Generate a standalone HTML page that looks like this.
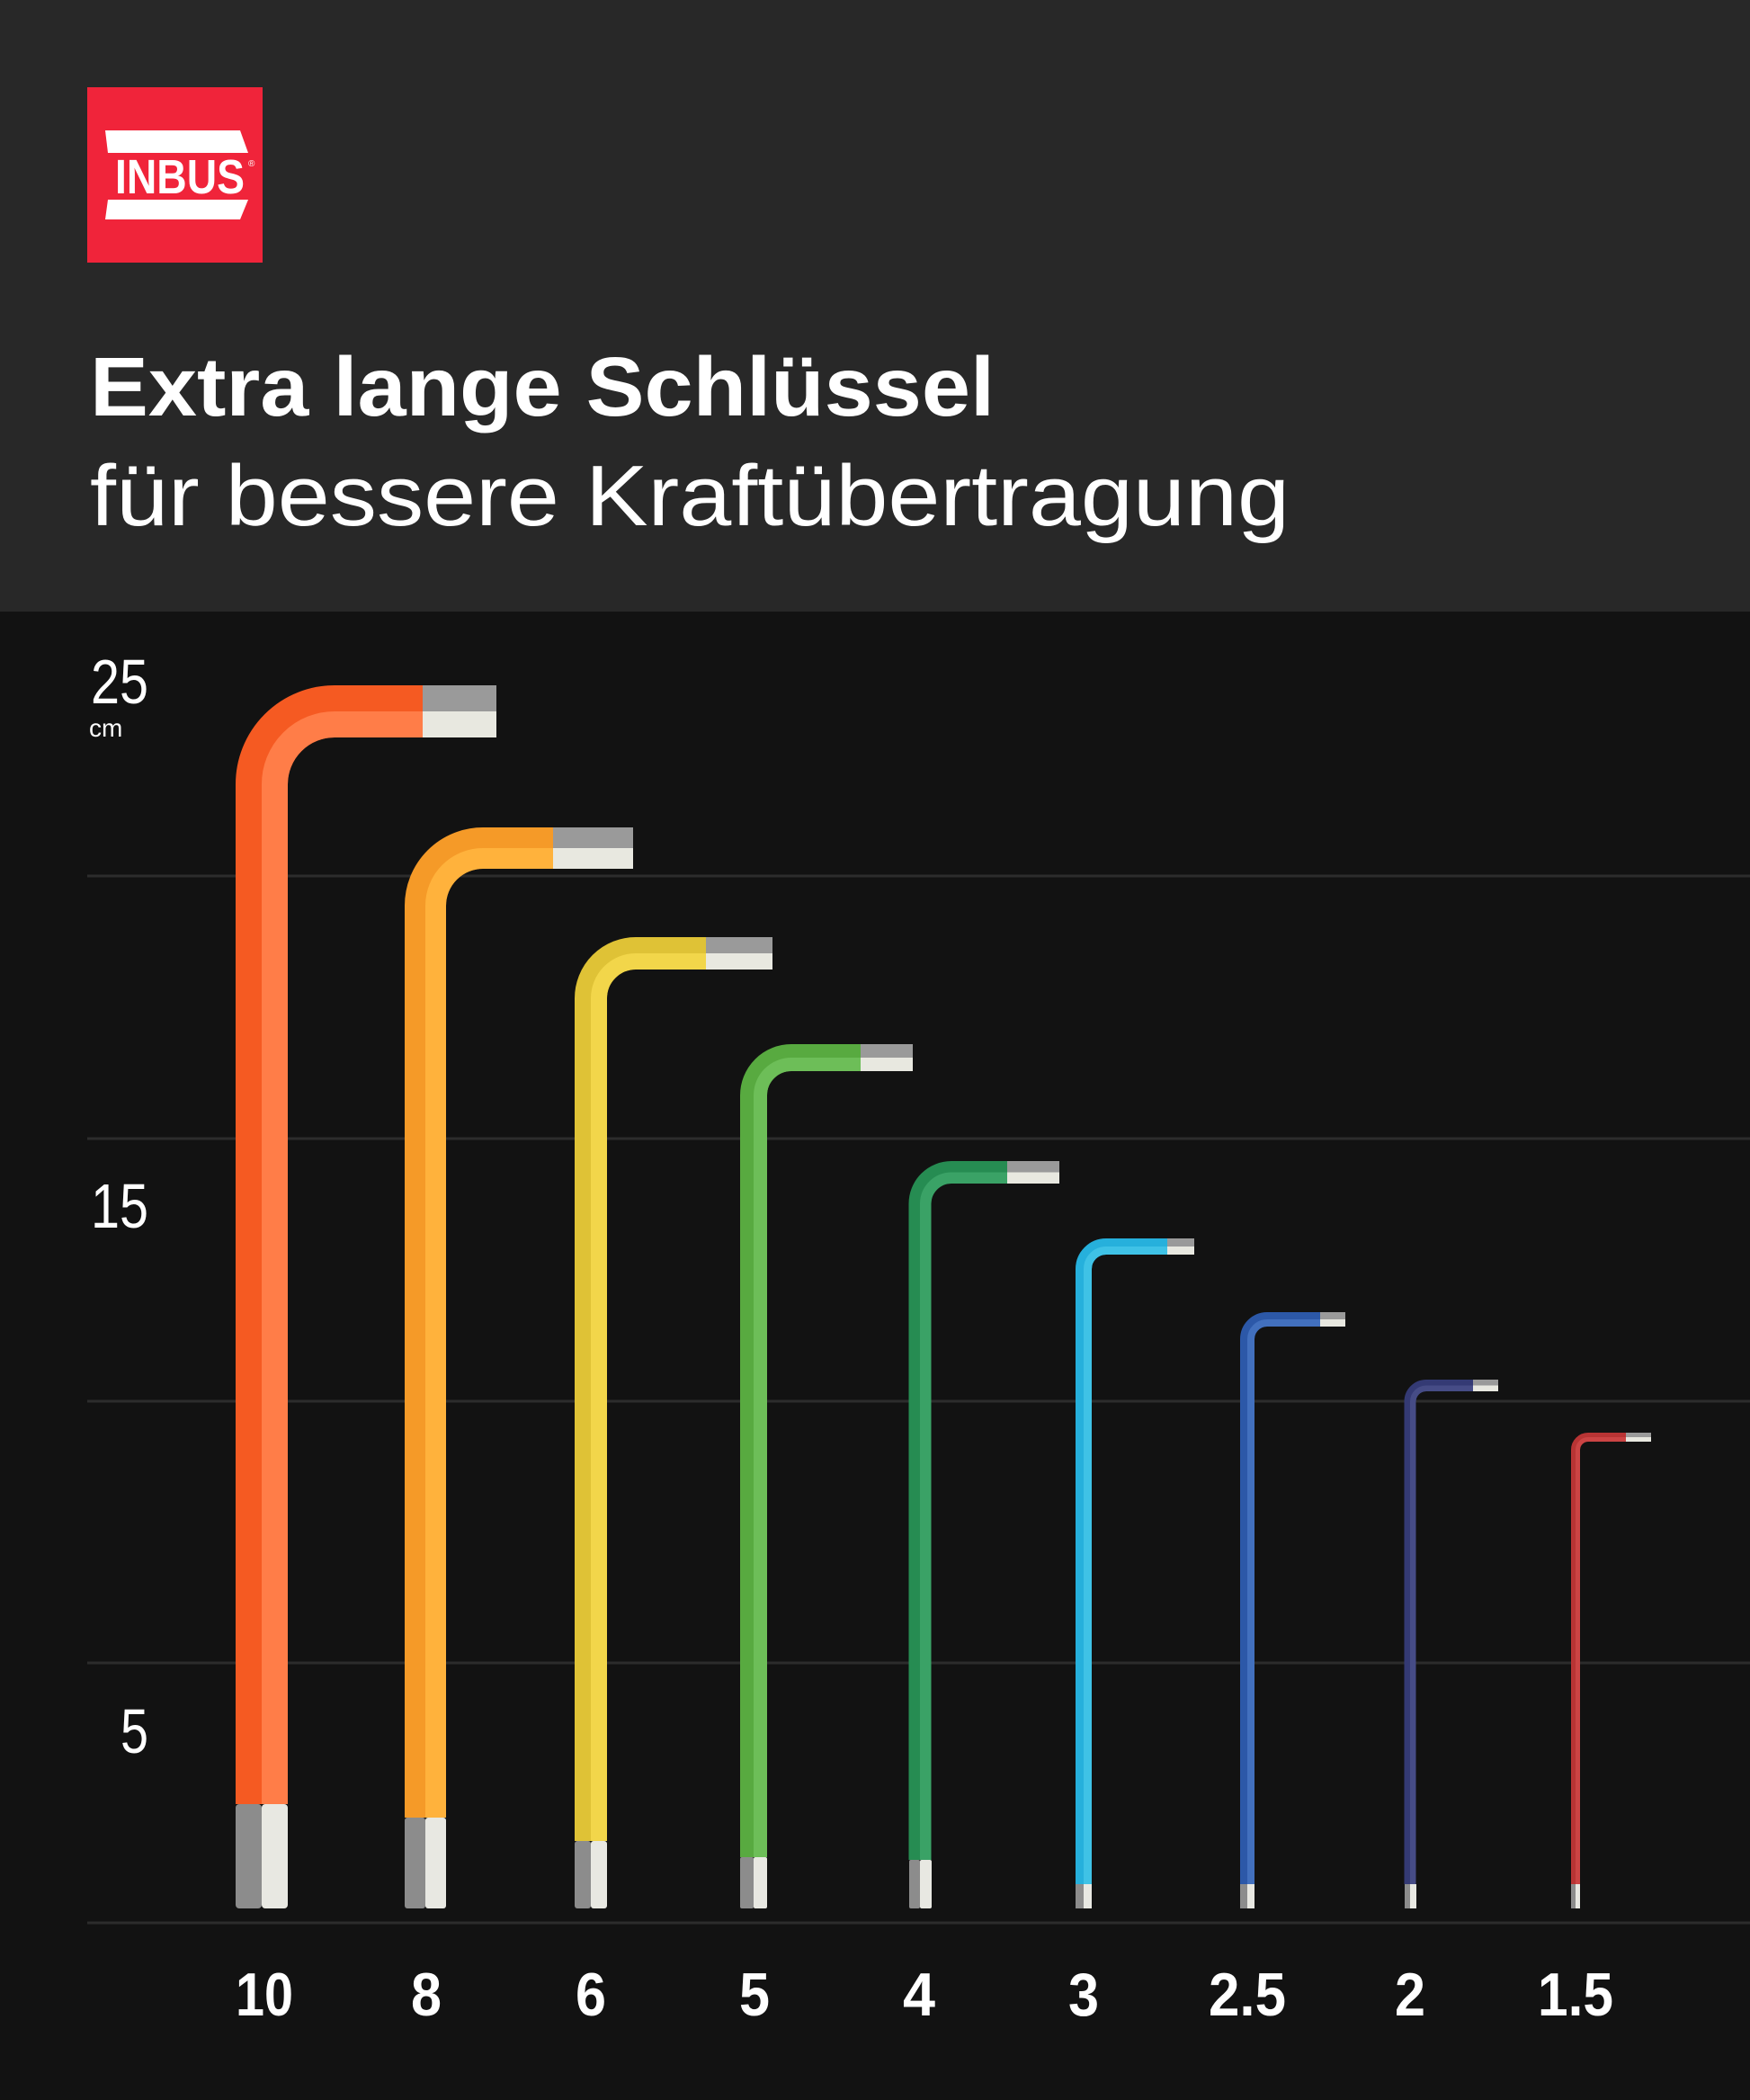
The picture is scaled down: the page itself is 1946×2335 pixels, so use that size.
<!DOCTYPE html>
<html><head><meta charset="utf-8"><style>html,body{margin:0;padding:0;background:#121212}svg{display:block}</style></head>
<body>
<svg width="1946" height="2335" viewBox="0 0 1946 2335" xmlns="http://www.w3.org/2000/svg" font-family="Liberation Sans, DejaVu Sans, sans-serif">
<rect x="0" y="0" width="1946" height="680" fill="#282828"/>
<rect x="0" y="680" width="1946" height="1655" fill="#121212"/>
<!-- logo -->
<rect x="97" y="97" width="195" height="195" fill="#f0243a"/>
<polygon points="117,145 267,145 276,170 120,170" fill="#fff"/>
<polygon points="120,222 276,222 267,244 117,244" fill="#fff"/>
<text x="128" y="215" font-size="54" font-weight="bold" fill="#fff" textLength="144" lengthAdjust="spacingAndGlyphs">INBUS</text>
<text x="276" y="185" font-size="10" fill="#fff">®</text>
<!-- titles -->
<text x="100" y="462" font-size="93" font-weight="bold" fill="#fff" textLength="1006" lengthAdjust="spacingAndGlyphs">Extra lange Schlüssel</text>
<text x="100" y="584" font-size="96" fill="#fff" textLength="1334" lengthAdjust="spacingAndGlyphs">für bessere Kraftübertragung</text>
<!-- grid -->
<g stroke="#2c2c2c" stroke-width="3">
<line x1="97" y1="974" x2="1946" y2="974"/>
<line x1="97" y1="1266" x2="1946" y2="1266"/>
<line x1="97" y1="1558" x2="1946" y2="1558"/>
<line x1="97" y1="1849" x2="1946" y2="1849"/>
<line x1="97" y1="2138" x2="1946" y2="2138"/>
</g>
<!-- y labels -->
<g fill="#fff" font-size="70" text-anchor="end">
<text x="165" y="782" textLength="64" lengthAdjust="spacingAndGlyphs">25</text>
<text x="165" y="1365" textLength="64" lengthAdjust="spacingAndGlyphs">15</text>
<text x="165" y="1949" textLength="31" lengthAdjust="spacingAndGlyphs">5</text>
</g>
<text x="99" y="819" font-size="28" fill="#fff">cm</text>
<!-- x labels -->
<g fill="#fff" font-size="68" font-weight="bold">
<text x="262" y="2241" textLength="64" lengthAdjust="spacingAndGlyphs">10</text>
<text x="457" y="2241" textLength="34" lengthAdjust="spacingAndGlyphs">8</text>
<text x="640" y="2241" textLength="34" lengthAdjust="spacingAndGlyphs">6</text>
<text x="822" y="2241" textLength="34" lengthAdjust="spacingAndGlyphs">5</text>
<text x="1004" y="2241" textLength="36" lengthAdjust="spacingAndGlyphs">4</text>
<text x="1188" y="2241" textLength="34" lengthAdjust="spacingAndGlyphs">3</text>
<text x="1344" y="2241" textLength="86" lengthAdjust="spacingAndGlyphs">2.5</text>
<text x="1551" y="2241" textLength="34" lengthAdjust="spacingAndGlyphs">2</text>
<text x="1710" y="2241" textLength="84" lengthAdjust="spacingAndGlyphs">1.5</text>
</g>
<g fill="none" stroke-linecap="butt">
<path d="M291,2006 L291,872 A81 81 0 0 1 372,791 L470,791" stroke="#f55a22" stroke-width="58"/>
<path d="M305.5,2006 L305.5,872 A66.5 66.5 0 0 1 372,805.5 L470,805.5" stroke="#ff7d48" stroke-width="29"/>
<path d="M470,791 L552,791" stroke="#9a9a9a" stroke-width="58"/>
<path d="M470,805.5 L552,805.5" stroke="#e8e8e0" stroke-width="29"/>
<path d="M473,2021 L473,1007 A64 64 0 0 1 537,943 L615,943" stroke="#f59a28" stroke-width="46"/>
<path d="M484.5,2021 L484.5,1007 A52.5 52.5 0 0 1 537,954.5 L615,954.5" stroke="#ffb23c" stroke-width="23"/>
<path d="M615,943 L704,943" stroke="#9a9a9a" stroke-width="46"/>
<path d="M615,954.5 L704,954.5" stroke="#e8e8e0" stroke-width="23"/>
<path d="M657,2047 L657,1110 A50 50 0 0 1 707,1060 L785,1060" stroke="#dfc236" stroke-width="36"/>
<path d="M666,2047 L666,1110 A41 41 0 0 1 707,1069 L785,1069" stroke="#f2d64a" stroke-width="18"/>
<path d="M785,1060 L859,1060" stroke="#9a9a9a" stroke-width="36"/>
<path d="M785,1069 L859,1069" stroke="#e8e8e0" stroke-width="18"/>
<path d="M838,2065 L838,1218 A42 42 0 0 1 880,1176 L957,1176" stroke="#58aa40" stroke-width="30"/>
<path d="M845.5,2065 L845.5,1218 A34.5 34.5 0 0 1 880,1183.5 L957,1183.5" stroke="#6dbe58" stroke-width="15"/>
<path d="M957,1176 L1015,1176" stroke="#9a9a9a" stroke-width="30"/>
<path d="M957,1183.5 L1015,1183.5" stroke="#e8e8e0" stroke-width="15"/>
<path d="M1023,2068 L1023,1338.5 A35 35 0 0 1 1058,1303.5 L1120,1303.5" stroke="#268c52" stroke-width="25"/>
<path d="M1029.25,2068 L1029.25,1338.5 A28.75 28.75 0 0 1 1058,1309.75 L1120,1309.75" stroke="#3aa266" stroke-width="12.5"/>
<path d="M1120,1303.5 L1178,1303.5" stroke="#9a9a9a" stroke-width="25"/>
<path d="M1120,1309.75 L1178,1309.75" stroke="#e8e8e0" stroke-width="12.5"/>
<path d="M1205,2095 L1205,1411 A25 25 0 0 1 1230,1386 L1298,1386" stroke="#26b0dc" stroke-width="18"/>
<path d="M1209.5,2095 L1209.5,1411 A20.5 20.5 0 0 1 1230,1390.5 L1298,1390.5" stroke="#3fc2e6" stroke-width="9"/>
<path d="M1298,1386 L1328,1386" stroke="#9a9a9a" stroke-width="18"/>
<path d="M1298,1390.5 L1328,1390.5" stroke="#e8e8e0" stroke-width="9"/>
<path d="M1387,2095 L1387,1489 A22 22 0 0 1 1409,1467 L1468,1467" stroke="#2c58a8" stroke-width="16"/>
<path d="M1391,2095 L1391,1489 A18 18 0 0 1 1409,1471 L1468,1471" stroke="#4270be" stroke-width="8"/>
<path d="M1468,1467 L1496,1467" stroke="#9a9a9a" stroke-width="16"/>
<path d="M1468,1471 L1496,1471" stroke="#e8e8e0" stroke-width="8"/>
<path d="M1568,2095 L1568,1558.5 A18 18 0 0 1 1586,1540.5 L1638,1540.5" stroke="#343a74" stroke-width="13"/>
<path d="M1571.25,2095 L1571.25,1558.5 A14.75 14.75 0 0 1 1586,1543.75 L1638,1543.75" stroke="#464c86" stroke-width="6.5"/>
<path d="M1638,1540.5 L1666,1540.5" stroke="#9a9a9a" stroke-width="13"/>
<path d="M1638,1543.75 L1666,1543.75" stroke="#e8e8e0" stroke-width="6.5"/>
<path d="M1752,2095 L1752,1612 A14 14 0 0 1 1766,1598 L1808,1598" stroke="#b83434" stroke-width="10"/>
<path d="M1754.5,2095 L1754.5,1612 A11.5 11.5 0 0 1 1766,1600.5 L1808,1600.5" stroke="#cc4444" stroke-width="5"/>
<path d="M1808,1598 L1836,1598" stroke="#9a9a9a" stroke-width="10"/>
<path d="M1808,1600.5 L1836,1600.5" stroke="#e8e8e0" stroke-width="5"/>
</g>
<g>
<rect x="262" y="2006" width="29" height="116" fill="#8c8c8c" rx="4"/><rect x="291" y="2006" width="29" height="116" fill="#e8e8e2" rx="4"/>
<rect x="450" y="2021" width="23" height="101" fill="#8c8c8c" rx="3"/><rect x="473" y="2021" width="23" height="101" fill="#e8e8e2" rx="3"/>
<rect x="639" y="2047" width="18" height="75" fill="#8c8c8c" rx="3"/><rect x="657" y="2047" width="18" height="75" fill="#e8e8e2" rx="3"/>
<rect x="823" y="2065" width="15" height="57" fill="#8c8c8c" rx="2"/><rect x="838" y="2065" width="15" height="57" fill="#e8e8e2" rx="2"/>
<rect x="1011" y="2068" width="12" height="54" fill="#8c8c8c" rx="2"/><rect x="1023" y="2068" width="13" height="54" fill="#e8e8e2" rx="2"/>
<rect x="1196" y="2095" width="9" height="27" fill="#8c8c8c"/><rect x="1205" y="2095" width="9" height="27" fill="#e8e8e2"/>
<rect x="1379" y="2095" width="8" height="27" fill="#8c8c8c"/><rect x="1387" y="2095" width="8" height="27" fill="#e8e8e2"/>
<rect x="1562" y="2095" width="6" height="27" fill="#8c8c8c"/><rect x="1568" y="2095" width="7" height="27" fill="#e8e8e2"/>
<rect x="1747" y="2095" width="5" height="27" fill="#8c8c8c"/><rect x="1752" y="2095" width="5" height="27" fill="#e8e8e2"/>
</g>
</svg>
</body></html>
